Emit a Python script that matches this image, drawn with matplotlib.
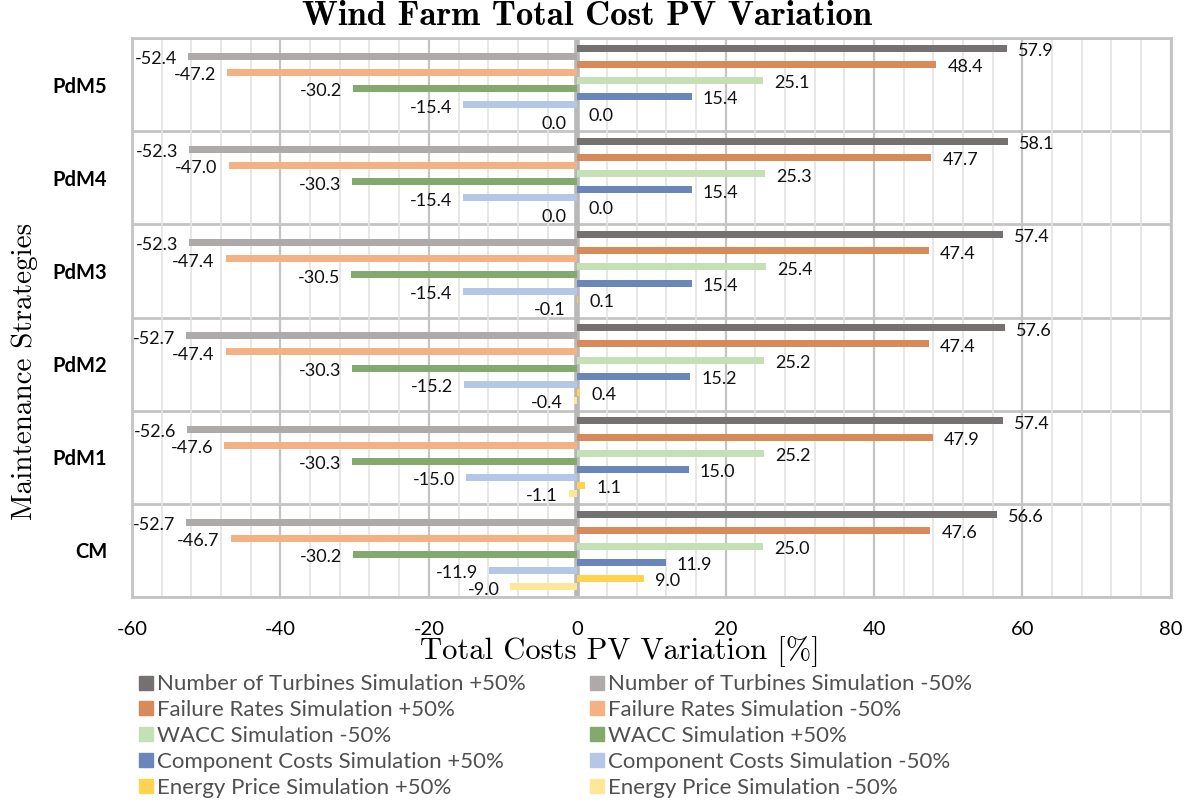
import matplotlib
matplotlib.use("Agg")
import matplotlib.pyplot as plt
import numpy as np
from matplotlib.patches import Patch
from matplotlib.ticker import MultipleLocator, FuncFormatter

strategies = ["CM", "PdM1", "PdM2", "PdM3", "PdM4", "PdM5"]

# series in drawing order inside each group (top to bottom)
series = [
    "Number of Turbines Simulation +50%",
    "Number of Turbines Simulation -50%",
    "Failure Rates Simulation +50%",
    "Failure Rates Simulation -50%",
    "WACC Simulation -50%",
    "WACC Simulation +50%",
    "Component Costs Simulation +50%",
    "Component Costs Simulation -50%",
    "Energy Price Simulation +50%",
    "Energy Price Simulation -50%",
]
colors = ["#757171", "#AEAAAA", "#D98A5B", "#F4B183", "#C5E0B4",
          "#83A96C", "#6A86BA", "#B4C7E7", "#FFD24F", "#FFE699"]

# values per strategy (CM, PdM1..PdM5)
turb_plus = [56.6, 57.4, 57.6, 57.4, 58.1, 57.9]
turb_minus = [-52.7, -52.6, -52.7, -52.3, -52.3, -52.4]
fail_plus = [47.6, 47.9, 47.4, 47.4, 47.7, 48.4]
fail_minus = [-46.7, -47.6, -47.4, -47.4, -47.0, -47.2]
wacc_minus = [25.0, 25.2, 25.2, 25.4, 25.3, 25.1]
wacc_plus = [-30.2, -30.3, -30.3, -30.5, -30.3, -30.2]
comp_plus = [11.9, 15.0, 15.2, 15.4, 15.4, 15.4]
comp_minus = [-11.9, -15.0, -15.2, -15.4, -15.4, -15.4]
energy_plus = [9.0, 1.1, 0.4, 0.1, 0.0, 0.0]
energy_minus = [-9.0, -1.1, -0.4, -0.1, 0.0, 0.0]

values = [turb_plus, turb_minus, fail_plus, fail_minus, wacc_minus,
          wacc_plus, comp_plus, comp_minus, energy_plus, energy_minus]

lab_font = "Lato"

fig = plt.figure(figsize=(11.94, 8.02), dpi=100)
ax = fig.add_axes([0.1106, 0.2556, 0.8700, 0.6970])

slot = 0.0866
bh = 0.075
y0 = np.arange(len(strategies))
for k, (name, vals, c) in enumerate(zip(series, values, colors)):
    ys = y0 + (4.5 - k) * slot
    ax.barh(ys, vals, height=bh, color=c, label=name, zorder=3)
    for y, v in zip(ys, vals):
        neg = v < 0 or (k % 2 == 1 and v == 0)
        ax.annotate(f"{v:.1f}", (v, y), xytext=(-8 if neg else 8, -2),
                    textcoords="offset points", ha="right" if neg else "left",
                    va="center", fontsize=13, family=lab_font, color="#111111",
                    zorder=4)

ax.set_xlim(-60, 80)
ax.set_ylim(-0.5, len(strategies) - 0.5)
ax.xaxis.set_major_locator(MultipleLocator(20))
ax.xaxis.set_minor_locator(MultipleLocator(4))
ax.grid(axis="x", which="minor", color="#e3e3e3", lw=1.2, zorder=0)
ax.grid(axis="x", which="major", color="#c4c4c4", lw=1.6, zorder=1)
for b in np.arange(-0.5, len(strategies), 1.0):
    ax.axhline(b, color="#c4c4c4", lw=2, zorder=1)
ax.axvline(0, color="#b8b8b8", lw=4, zorder=2)
for s in ax.spines.values():
    s.set_color("#c4c4c4")
    s.set_linewidth(2)

ax.set_yticks(y0)
ax.set_yticklabels(strategies, fontsize=14.5, fontweight="bold", family=lab_font)
ax.tick_params(axis="both", which="both", length=0)
ax.tick_params(axis="y", pad=18)
ax.tick_params(axis="x", pad=17, labelsize=14.5)
for t in ax.get_xticklabels():
    t.set_family(lab_font)
ax.xaxis.set_major_formatter(FuncFormatter(lambda v, p: f"{v:.0f}"))

fig.suptitle("Wind Farm Total Cost PV Variation", x=0.492, y=0.999, va="top",
             fontsize=25, family="cmb10")
ax.set_xlabel("Total Costs PV Variation [%]", fontsize=22, family="cmr10", labelpad=-1)
ax.xaxis.label.set_x(0.47)
ax.set_ylabel("Maintenance Strategies", fontsize=21, family="cmr10", labelpad=10)
ax.yaxis.label.set_y(0.404)

# legend filled row-wise like the original (matplotlib fills column-wise)
order = list(range(0, 10, 2)) + list(range(1, 10, 2))
handles = [Patch(color=colors[i], label=series[i]) for i in order]
leg = fig.legend(handles=handles, loc="upper left", bbox_to_anchor=(0.100, 0.184),
                 ncol=2, frameon=False, handlelength=0.6, handleheight=0.6,
                 handletextpad=0.2, columnspacing=2.9, labelspacing=0.26,
                 prop={"family": lab_font, "size": 16})
for t in leg.get_texts():
    t.set_color("#505050")

fig.savefig("out.png", dpi=100)
print("saved")
